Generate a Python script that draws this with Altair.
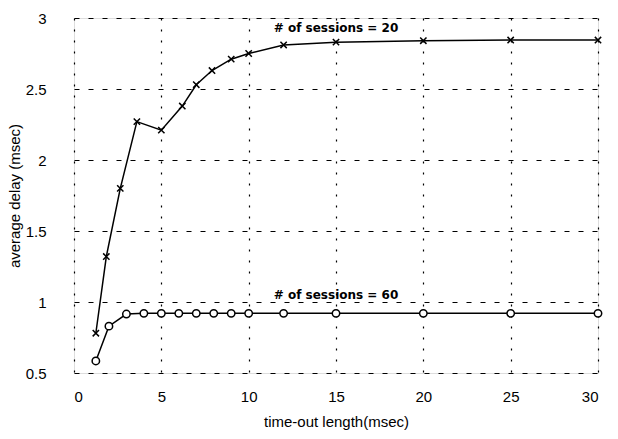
import altair as alt
import pandas as pd

x20 = [1.25, 1.85, 2.65, 3.6, 5, 6.2, 7, 7.9, 9, 10, 12, 15, 20, 25, 30]
y20 = [0.78, 1.32, 1.80, 2.27, 2.21, 2.38, 2.53, 2.63, 2.71, 2.75, 2.81, 2.83, 2.84, 2.845, 2.845]
x60 = [1.25, 2, 3, 4, 5, 6, 7, 8, 9, 10, 12, 15, 20, 25, 30]
y60 = [0.585, 0.83, 0.915, 0.92, 0.92, 0.92, 0.92, 0.92, 0.92, 0.92, 0.92, 0.92, 0.92, 0.92, 0.92]
labels = ["# of sessions = 20", "# of sessions = 60"]
label_x = [15, 15]
label_y = [2.93, 1.05]

d20 = pd.DataFrame({"x": x20, "y": y20})
d60 = pd.DataFrame({"x": x60, "y": y60})
dl = pd.DataFrame({"x": label_x, "y": label_y, "t": labels})

FONT = "Liberation Sans Narrow, Liberation Sans, Arial, sans-serif"

xs = alt.Scale(domain=[0, 30], nice=False, zero=False)
ys = alt.Scale(domain=[0.5, 3], nice=False, zero=False)

xaxis = alt.Axis(values=[0, 5, 10, 15, 20, 25, 30], title="time-out length(msec)",
                 grid=True, gridDash=[2, 9], gridColor="black", gridOpacity=1, gridWidth=1.2,
                 ticks=False, domain=False, labelPadding=16, titlePadding=10,
                 labelFont=FONT, titleFont=FONT, labelFontSize=15, titleFontSize=15,
                 titleFontWeight="normal", labelColor="black", titleColor="black")
yaxis = alt.Axis(values=[0.5, 1, 1.5, 2, 2.5, 3], title="average delay (msec)", format="~g",
                 grid=True, gridDash=[5, 9], gridColor="black", gridOpacity=1, gridWidth=1.2,
                 ticks=False, domain=False, labelPadding=28, titlePadding=3,
                 labelFont=FONT, titleFont=FONT, labelFontSize=15, titleFontSize=15,
                 titleFontWeight="normal", labelColor="black", titleColor="black")

base20 = alt.Chart(d20).encode(x=alt.X("x:Q", scale=xs, axis=xaxis), y=alt.Y("y:Q", scale=ys, axis=yaxis))
line20 = base20.mark_line(color="black", strokeWidth=1.5)
pts20 = base20.mark_point(shape="M-1,-1L1,1M1,-1L-1,1", size=40, filled=False, color="black", strokeWidth=1.5, opacity=1)

base60 = alt.Chart(d60).encode(x=alt.X("x:Q", scale=xs), y=alt.Y("y:Q", scale=ys))
line60 = base60.mark_line(color="black", strokeWidth=1.5)
pts60 = base60.mark_point(shape="circle", size=55, filled=True, fill="white", stroke="black", strokeWidth=1.5, opacity=1)

txt = alt.Chart(dl).mark_text(font="DejaVu Sans", fontWeight="bold", fontSize=12, color="black").encode(
    x=alt.X("x:Q", scale=xs), y=alt.Y("y:Q", scale=ys), text="t:N")

chart = alt.layer(line20, pts20, line60, pts60, txt).properties(
    width=524, height=355,
    padding={"left": 74, "top": 18, "right": 20, "bottom": 66},
    autosize="none",
).configure_view(stroke="black", strokeWidth=1.5).configure(background="white")

chart.save("out.html", embed_options={"renderer": "svg", "actions": False})
